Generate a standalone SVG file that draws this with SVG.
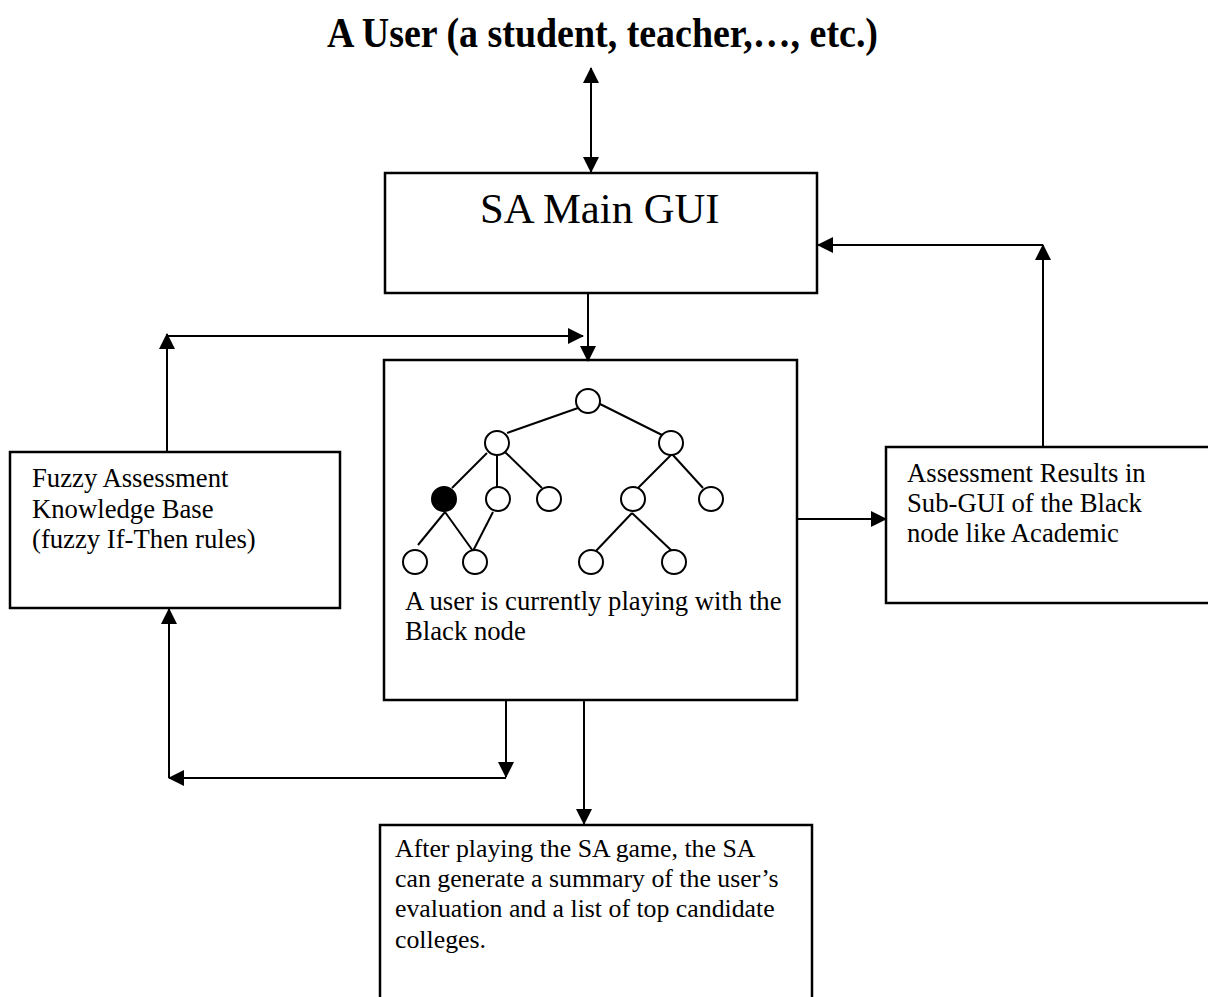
<svg xmlns="http://www.w3.org/2000/svg" width="1208" height="997" viewBox="0 0 1208 997">
<style>
.box{fill:#fff;stroke:#000;stroke-width:2.5}
.ln{fill:none;stroke:#000;stroke-width:2}
.t{font-family:"Liberation Serif","Times New Roman",serif;font-size:26.7px;fill:#000}
.s{font-family:"Liberation Serif","Times New Roman",serif;font-size:25.8px;fill:#000}
.big{font-family:"Liberation Serif","Times New Roman",serif;font-size:42.7px;fill:#000}
.title{font-family:"Liberation Serif","Times New Roman",serif;font-size:42px;font-weight:bold;fill:#000}
.c{fill:#fff;stroke:#000;stroke-width:2}
</style>
<defs>
<marker id="ah" markerUnits="userSpaceOnUse" markerWidth="16" markerHeight="16" viewBox="0 0 16 16" refX="15" refY="8" orient="auto-start-reverse">
<path d="M0,0 L16,8 L0,16 Z" fill="#000"/>
</marker>
</defs>
<rect width="1208" height="997" fill="#fff"/>
<text id="title" class="title" x="327" y="47" textLength="551" lengthAdjust="spacingAndGlyphs">A User (a student, teacher,…, etc.)</text>
<g id="main-gui">
<rect class="box" x="385" y="173" width="432" height="120"/>
<text class="big" x="480" y="223">SA Main GUI</text>
</g>
<g id="fuzzy-kb">
<rect class="box" x="10" y="452" width="330" height="156"/>
<text class="t" x="32" y="487">Fuzzy Assessment</text>
<text class="t" x="32" y="518">Knowledge Base</text>
<text class="t" x="32" y="548">(fuzzy If-Then rules)</text>
</g>
<g id="tree-box">
<rect class="box" x="384" y="360" width="413" height="340"/>
<g class="ln">
<line x1="578" y1="408" x2="507" y2="433"/>
<line x1="598" y1="403" x2="662" y2="435"/>
<line x1="487" y1="453" x2="452" y2="488"/>
<line x1="497" y1="453" x2="497" y2="487"/>
<line x1="505" y1="452" x2="542" y2="488"/>
<line x1="672" y1="454" x2="638" y2="488"/>
<line x1="672" y1="454" x2="703" y2="488"/>
<line x1="445" y1="512" x2="418" y2="545"/>
<line x1="445" y1="512" x2="473" y2="551"/>
<line x1="493" y1="512" x2="473" y2="551"/>
<line x1="632" y1="513" x2="595" y2="552"/>
<line x1="632" y1="513" x2="673" y2="552"/>
</g>
<circle class="c" cx="588" cy="401" r="12"/>
<circle class="c" cx="497" cy="443" r="12"/>
<circle class="c" cx="671" cy="443" r="12"/>
<circle cx="444" cy="499" r="12" fill="#000" stroke="#000" stroke-width="2"/>
<circle class="c" cx="498" cy="499" r="12"/>
<circle class="c" cx="549" cy="499" r="12"/>
<circle class="c" cx="633" cy="499" r="12"/>
<circle class="c" cx="711" cy="499" r="12"/>
<circle class="c" cx="415" cy="562" r="12"/>
<circle class="c" cx="475" cy="562" r="12"/>
<circle class="c" cx="591" cy="562" r="12"/>
<circle class="c" cx="674" cy="562" r="12"/>
<text class="t" x="405" y="610">A user is currently playing with the</text>
<text class="t" x="405" y="640">Black node</text>
</g>
<g id="results">
<rect class="box" x="886" y="447" width="330" height="156"/>
<text class="t" x="907" y="482">Assessment Results in</text>
<text class="t" x="907" y="512">Sub-GUI of the Black</text>
<text class="t" x="907" y="542">node like Academic</text>
</g>
<g id="summary">
<rect class="box" x="380" y="825" width="432" height="190"/>
<text class="s" x="395" y="857">After playing the SA game, the SA</text>
<text class="s" x="395" y="887">can generate a summary of the user’s</text>
<text class="s" x="395" y="917">evaluation and a list of top candidate</text>
<text class="s" x="395" y="948">colleges.</text>
</g>
<g id="connectors" class="ln">
<line x1="591" y1="68" x2="591" y2="172" marker-start="url(#ah)" marker-end="url(#ah)"/>
<line x1="588" y1="293" x2="588" y2="361" marker-end="url(#ah)"/>
<line x1="167" y1="452" x2="167" y2="334" marker-end="url(#ah)"/>
<line x1="167" y1="336" x2="583" y2="336" marker-end="url(#ah)"/>
<line x1="797" y1="519" x2="886" y2="519" marker-end="url(#ah)"/>
<line x1="1043" y1="447" x2="1043" y2="245" marker-end="url(#ah)"/>
<line x1="1043" y1="245" x2="818" y2="245" marker-end="url(#ah)"/>
<line x1="506" y1="700" x2="506" y2="777" marker-end="url(#ah)"/>
<line x1="506" y1="778" x2="169" y2="778" marker-end="url(#ah)"/>
<line x1="169" y1="778" x2="169" y2="609" marker-end="url(#ah)"/>
<line x1="584" y1="700" x2="584" y2="824" marker-end="url(#ah)"/>
</g>
</svg>
